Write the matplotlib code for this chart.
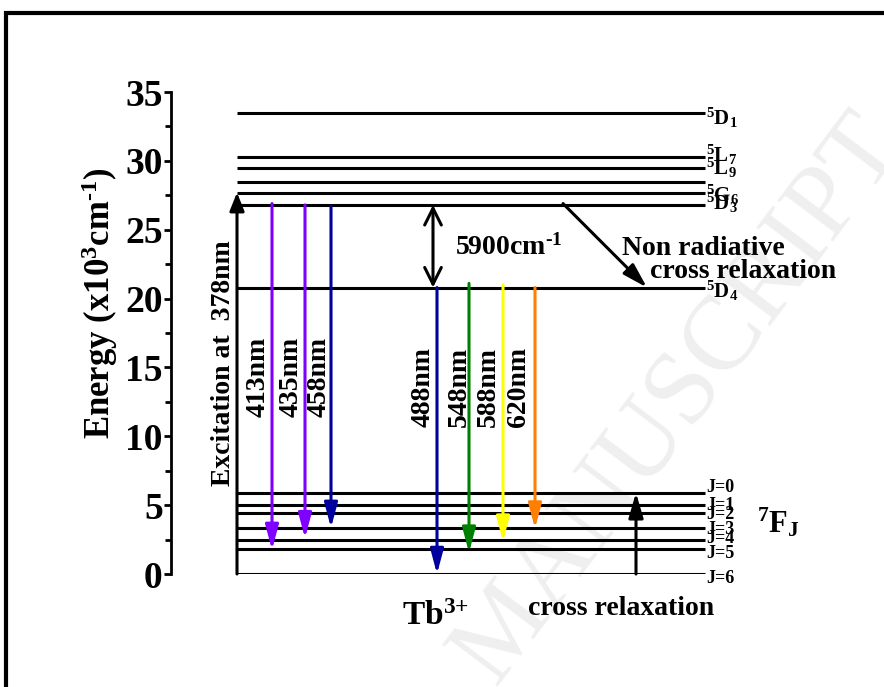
import matplotlib
matplotlib.use('Agg')
import matplotlib.pyplot as plt
from matplotlib.patches import Rectangle

plt.rcParams['font.family'] = ['Liberation Serif', 'DejaVu Serif']
plt.rcParams['font.weight'] = 'bold'
plt.rcParams['mathtext.fontset'] = 'custom'
plt.rcParams['mathtext.rm'] = 'Liberation Serif:bold'
plt.rcParams['mathtext.it'] = 'Liberation Serif:bold'
plt.rcParams['mathtext.bf'] = 'Liberation Serif:bold'
plt.rcParams['mathtext.default'] = 'rm'

# energy levels of Tb3+ (x10^3 cm^-1)
upper_levels = [33.5, 30.3, 29.5, 28.5, 27.7, 26.8, 20.8]
upper_names = [r'$^5$D$_1$', r'$^5$L$_7$', r'$^5$L$_9$', '', r'$^5$G$_6$', r'$^5$D$_3$', r'$^5$D$_4$']
lower_levels = [5.9, 5.0, 4.4, 3.35, 2.5, 1.8, 0.0]
lower_names = ['J=0', 'J=1', 'J=2', 'J=3', 'J=4', 'J=5', 'J=6']

# emission transitions
wavelengths = ['413nm', '435nm', '458nm', '488nm', '548nm', '588nm', '620nm']
em_start = [26.9, 26.8, 26.7, 20.8, 21.1, 21.0, 20.8]
em_end = [1.75, 2.6, 3.35, 0.0, 1.55, 2.35, 3.3]
em_colors = ['#8000ff', '#8000ff', '#00009c', '#00009c', '#008000', '#ffff00', '#ff8000']

# excitation / relaxation
excitation_top = 27.7
gap_top, gap_bottom = 26.8, 20.8

# layout (x in pixel-like units of the axes)
lev_x0, lev_x1 = 237, 705
em_x = [272, 305, 331, 437, 469, 503, 535]
em_lab_x = [258, 291, 319, 423, 459, 488, 518]
em_lab_y = [14.3, 14.3, 14.3, 13.6, 13.6, 13.6, 13.6]
upper_lab_y = [32.6, 29.92, 28.98, 0, 27.0, 26.43, 20.04]
lower_lab_y = [6.25, 5.0, 4.35, 3.2, 2.55, 1.5, -0.3]

fig = plt.figure(figsize=(8.84, 6.87), dpi=100)
ax = fig.add_axes([171 / 884, 113 / 687, 713 / 884, 482 / 687])
ax.patch.set_visible(False)
ax.set_xlim(171, 884)
ax.set_ylim(0, 35)

for s in ['top', 'right', 'bottom']:
    ax.spines[s].set_visible(False)
ax.spines['left'].set_linewidth(2)
ax.set_xticks([])
ax.set_yticks(range(0, 36, 5))
ax.set_yticks([2.5 + 5 * i for i in range(7)], minor=True)
ax.tick_params(axis='y', which='major', direction='out', length=5, width=2,
               labelsize=27, pad=1)
ax.tick_params(axis='y', which='minor', direction='out', length=4, width=2)
for t in ax.get_yticklabels():
    t.set_fontweight('bold')

ax.text(-0.1, 0.562, r'Energy (x10$^3$cm$^{‐1}$)', transform=ax.transAxes,
        rotation=90, ha='center', va='center', fontsize=25, fontweight='bold')

# levels
ax.hlines(upper_levels, lev_x0, lev_x1, color='black', lw=2.2)
ax.hlines(lower_levels, lev_x0, lev_x1, color='black', lw=2.2)
for name, yl in zip(upper_names, upper_lab_y):
    if name:
        ax.text(lev_x1 + 1, yl, name, fontsize=15, ha='left', va='baseline')
for name, yl in zip(lower_names, lower_lab_y):
    ax.text(lev_x1 + 1, yl, name, fontsize=13, ha='left', va='center')
ax.text(757, 2.98, r'$^7$F$_J$', fontsize=22, ha='left', va='baseline')

# emission arrows
for x, y0, y1, c in zip(em_x, em_start, em_end, em_colors):
    ax.annotate('', xy=(x, y1), xytext=(x, y0), annotation_clip=False,
                arrowprops=dict(arrowstyle='-|>,head_length=0.75,head_width=0.2',
                                color=c, lw=2.2, shrinkA=0, shrinkB=0,
                                mutation_scale=20))
for lab, x, y in zip(wavelengths, em_lab_x, em_lab_y):
    ax.text(x, y, lab, rotation=90, ha='center', va='center', fontsize=20)

# excitation arrow
ax.annotate('', xy=(lev_x0, excitation_top), xytext=(lev_x0, 0), annotation_clip=False,
            arrowprops=dict(arrowstyle='-|>,head_length=0.55,head_width=0.22',
                            color='black', lw=2.2, shrinkA=0, shrinkB=0,
                            mutation_scale=20))
ax.text(224, 15.3, 'Excitation at  378nm', rotation=90, ha='center', va='center',
        fontsize=20)

# 5900 cm-1 gap
ax.annotate('', xy=(433, gap_bottom), xytext=(433, gap_top),
            arrowprops=dict(arrowstyle='<->,head_length=0.6,head_width=0.3',
                            color='black', lw=2.2, shrinkA=0, shrinkB=0,
                            mutation_scale=20))
ax.text(455, 23.17, r'5900cm$^{‐1}$', fontsize=20, ha='left', va='baseline')

# non radiative cross relaxation
ax.annotate('', xy=(647, gap_bottom), xytext=(563, gap_top + 0.1),
            arrowprops=dict(arrowstyle='-|>,head_length=0.75,head_width=0.22',
                            color='black', lw=2.2, shrinkA=0, shrinkB=0,
                            mutation_scale=20))
ax.text(622, 23.17, 'Non radiative', fontsize=20, ha='left', va='baseline')
ax.text(650, 21.5, 'cross relaxation', fontsize=20, ha='left', va='baseline')

# cross relaxation in 7F_J
ax.annotate('', xy=(636, lower_levels[0]), xytext=(636, 0), annotation_clip=False,
            arrowprops=dict(arrowstyle='-|>,head_length=0.75,head_width=0.22',
                            color='black', lw=2.2, shrinkA=0, shrinkB=0,
                            mutation_scale=20))
ax.text(528, -2.98, 'cross relaxation', fontsize=20, ha='left', va='baseline')
ax.text(402, -3.7, r'Tb$^{3{+}}$', fontsize=24, ha='left', va='baseline')

# watermark and frame
fig.text(680 / 884, 1 - 400 / 687, 'MANUSCRIPT', rotation=53, ha='center', va='center',
         fontsize=76, fontweight='normal', color='#efefef', zorder=-1)
fig.patches.append(Rectangle((6 / 884, -0.2), 1.5, 1.2 - 13 / 687,
                             transform=fig.transFigure, fill=False,
                             edgecolor='black', lw=3))

fig.savefig('out.png', dpi=100)
